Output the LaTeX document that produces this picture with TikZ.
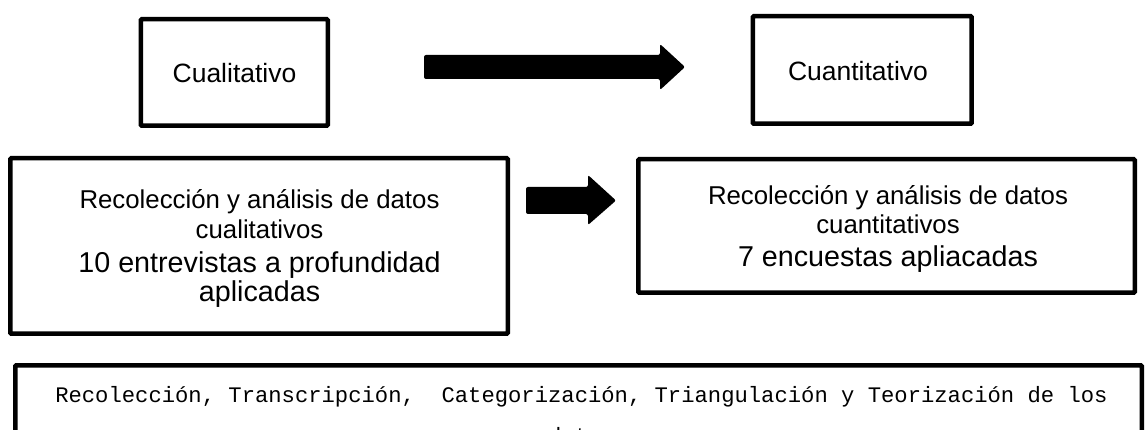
\documentclass[tikz,border=0pt]{standalone}
\usepackage{fontspec}
\setmainfont{Liberation Sans}
\newfontfamily\monof{Liberation Mono}
\begin{document}
\begin{tikzpicture}[x=1pt,y=-1pt,
  box/.style={draw=black, line width=4.5pt, rounded corners=1pt, inner sep=0pt},
  lbl/.style={anchor=base, inner sep=0pt, text=black},
  bigarrow/.style={fill=black, rounded corners=2pt}]
\useasboundingbox (0,0) rectangle (1146,430);
\clip (0,0) rectangle (1146,430);

% boxes
\node[box, minimum width=187pt, minimum height=106.5pt] (cual) at (234.25,72.5) {};
\node[box, minimum width=218.8pt, minimum height=107.5pt] (cuan) at (862.3,70) {};
\node[box, minimum width=497.5pt, minimum height=175.5pt] (recl) at (259,246) {};
\node[box, minimum width=496.5pt, minimum height=133.5pt] (recr) at (886.5,226) {};
\node[box, minimum width=1126.5pt, minimum height=120pt] (proc) at (578.5,425.25) {};

% labels
\node[lbl, font=\fontsize{26.5}{30}\selectfont] (tcual) at (234.5,83) {Cualitativo};
\node[lbl, font=\fontsize{26.5}{30}\selectfont] (tcuan) at (858,81) {Cuantitativo};

\node[lbl, font=\fontsize{25.8}{30}\selectfont] (l1) at (259.5,209) {Recolección y análisis de datos};
\node[lbl, font=\fontsize{25.8}{30}\selectfont] (l2) at (259.5,239) {cualitativos};
\node[lbl, font=\fontsize{28.7}{32}\selectfont] (l3) at (259.5,273) {10 entrevistas a profundidad};
\node[lbl, font=\fontsize{28.7}{32}\selectfont] (l4) at (259.5,302) {aplicadas};

\node[lbl, font=\fontsize{25.8}{30}\selectfont] (r1) at (888,205) {Recolección y análisis de datos};
\node[lbl, font=\fontsize{25.8}{30}\selectfont] (r2) at (888,234) {cuantitativos};
\node[lbl, font=\fontsize{28.7}{32}\selectfont] (r3) at (888,267) {7 encuestas apliacadas};

\node[lbl, font=\monof\fontsize{22.2}{30}\selectfont] (b1) at (581.5,402) {\frenchspacing Recolección, Transcripción,\ \ Categorización, Triangulación y Teorización de los};
\node[lbl, font=\monof\fontsize{22.2}{30}\selectfont] (b2) at (581.5,443) {datos};

% arrows
\fill[bigarrow] (424,55) -- (660,55) -- (660,44) -- (685,67) -- (660,90) -- (660,79) -- (424,79) -- cycle;
\fill[bigarrow] (526,187) -- (588,187) -- (588,175) -- (616,200.5) -- (588,225) -- (588,214) -- (526,214) -- cycle;
\end{tikzpicture}
\end{document}
